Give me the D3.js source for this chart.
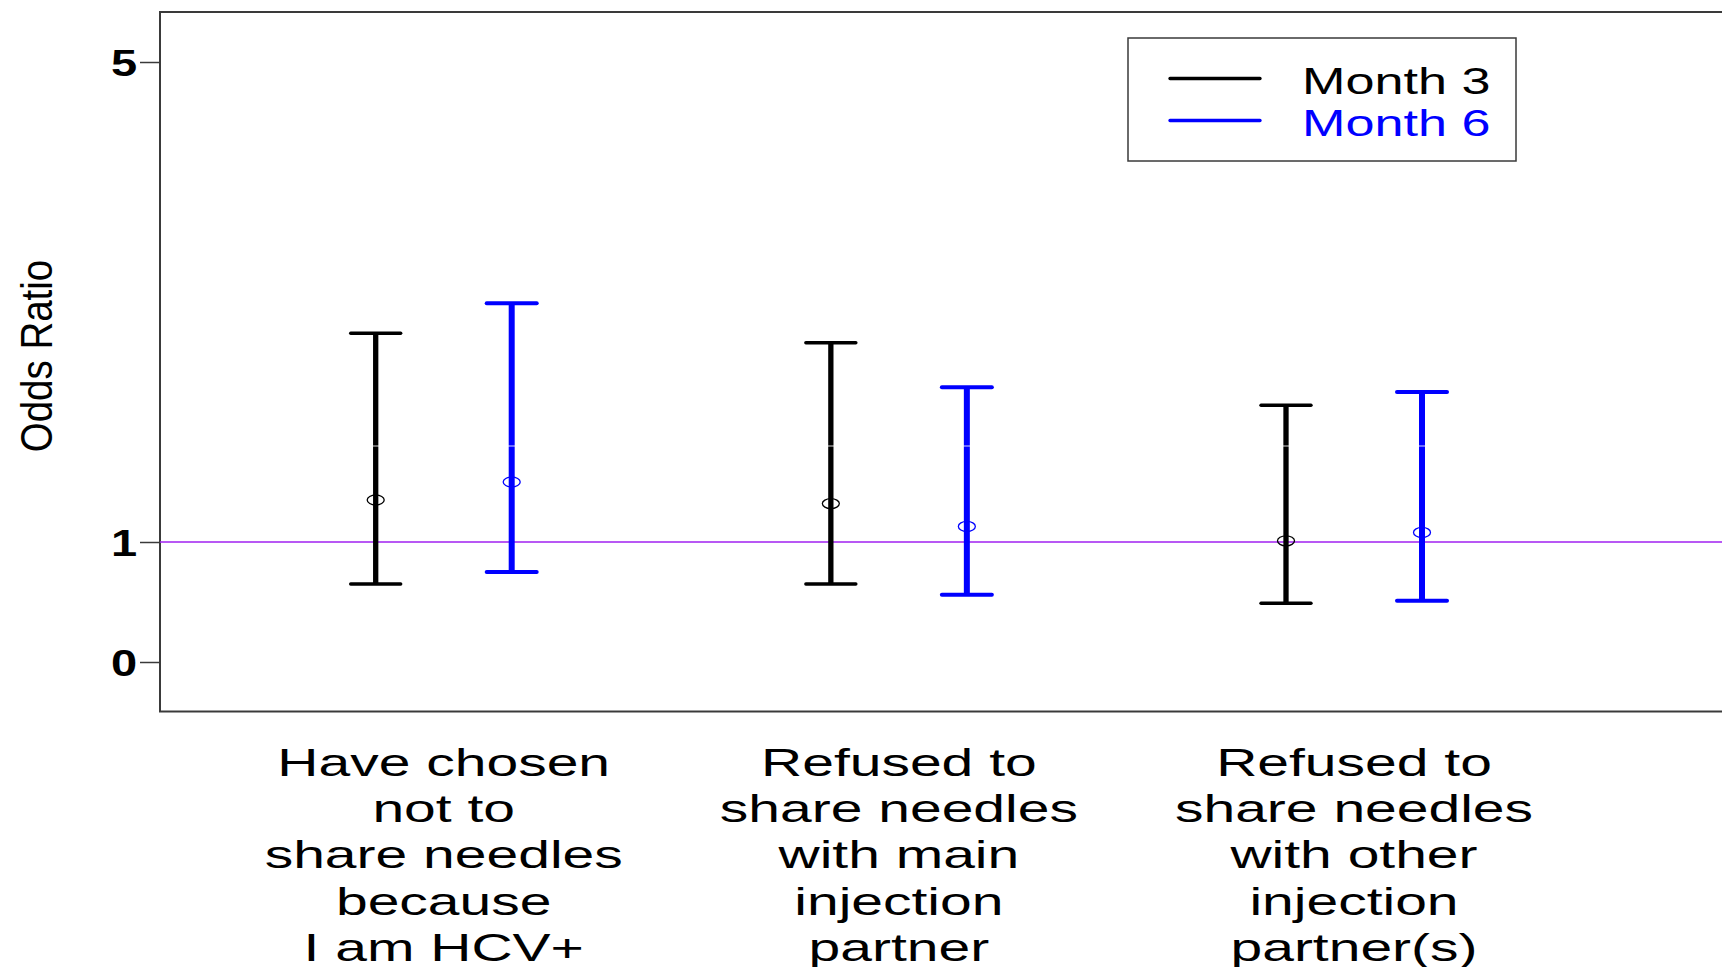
<!DOCTYPE html>
<meta charset="utf-8">
<body style="margin:0;background:#fff">

<!-- Load d3.js -->
<script src="https://d3js.org/d3.v7.min.js"></script>

<div id="my_dataviz"></div>

<script>

// Categories (x labels, one line per entry)
var categories = [
  ["Have chosen", "not to", "share needles", "because", "I am HCV+"],
  ["Refused to", "share needles", "with main", "injection", "partner"],
  ["Refused to", "share needles", "with other", "injection", "partner(s)"]
];
var seriesNames = ["Month 3", "Month 6"];
var seriesColors = ["#000000", "#0000ff"];

// odds ratio estimates and 95% CI
var month3Est   = [1.35, 1.32, 1.01];
var month3Lower = [0.65, 0.65, 0.49];
var month3Upper = [2.74, 2.66, 2.14];
var month6Est   = [1.50, 1.13, 1.08];
var month6Lower = [0.75, 0.56, 0.51];
var month6Upper = [2.99, 2.29, 2.25];

var yTicks = [0, 1, 5];
var refValue = 1;

var width = 1722, height = 967;
var font = "'Liberation Sans', Arial, sans-serif";

var svg = d3.select("#my_dataviz")
  .append("svg")
    .attr("width", width)
    .attr("height", height)
    .style("display", "block");

// plot region
var plotLeft = 160, plotTop = 12, plotBottom = 711.5;

var y = d3.scaleLinear()
  .domain([-0.4125, 5.4167])
  .range([plotBottom, plotTop]);

var x = d3.scaleLinear()
  .domain([1, 3])
  .range([443.7, 1354]);

var offset = 68; // half the gap between the two months

// build rows from the arrays
var rows = [];
categories.forEach(function(c, i) {
  rows.push({cat: i + 1, s: 0, est: month3Est[i], lo: month3Lower[i], hi: month3Upper[i]});
  rows.push({cat: i + 1, s: 1, est: month6Est[i], lo: month6Lower[i], hi: month6Upper[i]});
});

// frame (runs off the right side like the original)
svg.append("rect")
  .attr("x", plotLeft)
  .attr("y", plotTop)
  .attr("width", width + 20 - plotLeft)
  .attr("height", plotBottom - plotTop)
  .attr("fill", "none")
  .attr("stroke", "#3a3a3a")
  .attr("stroke-width", 2);

// Y axis
var yAxis = svg.append("g")
  .attr("transform", "translate(" + plotLeft + ",0)")
  .call(d3.axisLeft(y).tickValues(yTicks).tickSize(20).tickFormat(d3.format("d")));
yAxis.select(".domain").remove();
yAxis.selectAll("line").attr("stroke", "#3a3a3a").attr("stroke-width", 1.5);
yAxis.selectAll("text")
  .attr("x", -23 / 1.27)
  .attr("dy", "0.36em")
  .attr("transform", "scale(1.27,1)")
  .style("font-family", font)
  .style("font-weight", "bold")
  .style("font-size", "37px")
  .attr("fill", "#000");

// y label
svg.append("text")
  .attr("transform", "translate(52,356) scale(1.17,1) rotate(-90)")
  .attr("text-anchor", "middle")
  .style("font-family", font)
  .style("font-size", "38.5px")
  .text("Odds Ratio");

// reference line at 1
svg.append("line")
  .attr("x1", plotLeft).attr("x2", width)
  .attr("y1", y(refValue)).attr("y2", y(refValue))
  .attr("stroke", "#a020f0")
  .attr("stroke-width", 1.5);

// error bars
var bars = svg.selectAll(".bar")
  .data(rows)
  .enter()
  .append("g")
    .attr("transform", function(d) { return "translate(" + (x(d.cat) + (d.s === 0 ? -offset : offset)) + ",0)"; });

bars.append("line")
  .attr("y1", function(d) { return y(d.lo); })
  .attr("y2", function(d) { return y(d.hi); })
  .attr("stroke", function(d) { return seriesColors[d.s]; })
  .attr("stroke-width", function(d) { return d.s === 0 ? 5.3 : 6; });

bars.selectAll(".cap")
  .data(function(d) { return [d, d].map(function(r, k) { return {s: r.s, v: k ? r.hi : r.lo}; }); })
  .enter()
  .append("line")
    .attr("x1", -25).attr("x2", 25)
    .attr("y1", function(d) { return y(d.v); })
    .attr("y2", function(d) { return y(d.v); })
    .attr("stroke", function(d) { return seriesColors[d.s]; })
    .attr("stroke-width", function(d) { return d.s === 0 ? 3.4 : 4; })
    .attr("stroke-linecap", "round");

// open point markers (the bar shows through)
bars.append("ellipse")
  .attr("cy", function(d) { return y(d.est); })
  .attr("rx", 8.5)
  .attr("ry", 5)
  .attr("fill", "none")
  .attr("stroke", function(d) { return seriesColors[d.s]; })
  .attr("stroke-width", 1.3);

// faint white rule seen across the bars
svg.append("line")
  .attr("x1", plotLeft + 1).attr("x2", width)
  .attr("y1", y(1.8)).attr("y2", y(1.8))
  .attr("stroke", "#fff")
  .attr("stroke-width", 1)
  .attr("stroke-opacity", 0.85);

// x labels
var labels = svg.selectAll(".xlab")
  .data(categories)
  .enter()
  .append("g")
    .attr("transform", function(d, i) { return "translate(" + x(i + 1) + ",775.5) scale(1.5,1)"; });

labels.selectAll("text")
  .data(function(d) { return d; })
  .enter()
  .append("text")
    .attr("y", function(d, j) { return j * 46.4; })
    .attr("text-anchor", "middle")
    .style("font-family", font)
    .style("font-size", "38px")
    .text(function(d) { return d; });

// legend
svg.append("rect")
  .attr("x", 1128).attr("y", 38)
  .attr("width", 388).attr("height", 123)
  .attr("fill", "#fff")
  .attr("stroke", "#3a3a3a")
  .attr("stroke-width", 1.5);

var leg = svg.selectAll(".leg")
  .data(seriesNames)
  .enter()
  .append("g")
    .attr("transform", function(d, i) { return "translate(1170," + (78.5 + i * 42) + ")"; });

leg.append("line")
  .attr("x1", 0).attr("x2", 90)
  .attr("stroke", function(d, i) { return seriesColors[i]; })
  .attr("stroke-width", 3.3)
  .attr("stroke-linecap", "round");

leg.append("text")
  .attr("transform", "translate(132,15) scale(1.41,1)")
  .style("font-family", font)
  .style("font-size", "37px")
  .attr("fill", function(d, i) { return seriesColors[i]; })
  .text(function(d) { return d; });

</script>
</body>
